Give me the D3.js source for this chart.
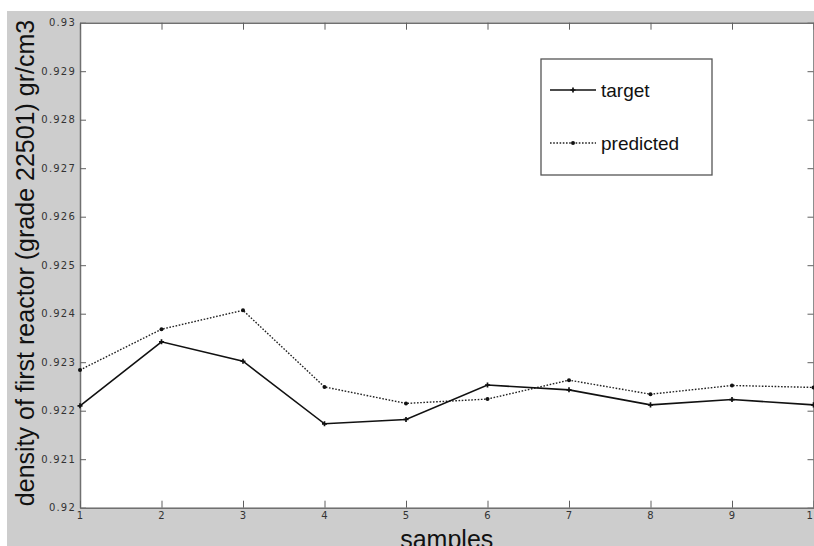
<!DOCTYPE html>
<html>
<head>
<meta charset="utf-8">
<script src="https://cdn.jsdelivr.net/npm/d3@7"></script>
<style>
  body { margin: 0; background: #fff; }
  svg { display: block; }
  .tick text { font-family: "DejaVu Sans", sans-serif; font-size: 10px; letter-spacing: 1.2px; fill: #333; }
</style>
</head>
<body>
<svg id="chart"></svg>
<script>
// samples 1..10, density values
const samples = [1, 2, 3, 4, 5, 6, 7, 8, 9, 10];
const target = [0.92210, 0.92342, 0.92302, 0.92173, 0.92182, 0.92253, 0.92243, 0.92212, 0.92223, 0.92212];
const predicted = [0.92284, 0.92368, 0.92407, 0.92249, 0.92215, 0.92224, 0.92263, 0.92234, 0.92252, 0.92248];
const yTicks = [0.92, 0.921, 0.922, 0.923, 0.924, 0.925, 0.926, 0.927, 0.928, 0.929, 0.93];

const width = 814, height = 546;
const plotLeft = 80, plotRight = 813.5, plotTop = 22.7, plotBottom = 507.7;

const svg = d3.select("#chart").attr("width", width).attr("height", height);

// grey figure background
svg.append("rect")
    .attr("x", 7).attr("y", 11)
    .attr("width", width - 7).attr("height", height - 11)
    .style("fill", "#cdcdcd");

const x = d3.scaleLinear().domain([1, 10]).range([plotLeft, plotRight]);
const y = d3.scaleLinear().domain([0.92, 0.93]).range([plotBottom, plotTop]);

// white axes box
svg.append("rect")
    .attr("x", plotLeft).attr("y", plotTop)
    .attr("width", plotRight - plotLeft).attr("height", plotBottom - plotTop)
    .style("fill", "#fff");

const fmt = d => String(+d.toFixed(3));

function styleAxis(g) {
    g.select(".domain").style("stroke", "#707070").style("stroke-width", 1.5);
    g.selectAll(".tick line").style("stroke", "#606060");
}

svg.append("g").attr("transform", `translate(${plotLeft},0)`)
    .call(d3.axisLeft(y).tickValues(yTicks).tickFormat(fmt).tickSizeInner(-6).tickSizeOuter(0).tickPadding(4))
    .call(styleAxis);
svg.append("g").attr("transform", `translate(${plotRight},0)`)
    .call(d3.axisRight(y).tickValues(yTicks).tickFormat("").tickSizeInner(-6).tickSizeOuter(0))
    .call(styleAxis);
svg.append("g").attr("transform", `translate(0,${plotBottom})`)
    .call(d3.axisBottom(x).tickValues(samples).tickFormat(d3.format("d")).tickSizeInner(-7).tickSizeOuter(0).tickPadding(4))
    .call(styleAxis);
svg.append("g").attr("transform", `translate(0,${plotTop})`)
    .call(d3.axisTop(x).tickValues(samples).tickFormat("").tickSizeInner(-7).tickSizeOuter(0))
    .call(styleAxis);

// lines
const line = d3.line().x((d, i) => x(samples[i])).y(d => y(d));

svg.append("path").datum(predicted)
    .attr("d", line)
    .style("fill", "none").style("stroke", "#222").style("stroke-width", 1.4)
    .style("stroke-dasharray", "1.6,1.6");
svg.append("path").datum(target)
    .attr("d", line)
    .style("fill", "none").style("stroke", "#111").style("stroke-width", 1.6);

// markers
svg.selectAll(".pdot").data(predicted).enter().append("circle")
    .attr("cx", (d, i) => x(samples[i])).attr("cy", d => y(d))
    .attr("r", 2).style("fill", "#111");
const plus = d3.symbol().type(d3.symbolCross).size(14);
svg.selectAll(".tplus").data(target).enter().append("path")
    .attr("d", plus)
    .attr("transform", (d, i) => `translate(${x(samples[i])},${y(d)})`)
    .style("fill", "#111");

// legend
const lg = svg.append("g");
lg.append("rect").attr("x", 541).attr("y", 59).attr("width", 171).attr("height", 116)
    .style("fill", "#fff").style("stroke", "#555").style("stroke-width", 1.3);
lg.append("line").attr("x1", 550).attr("x2", 596).attr("y1", 90).attr("y2", 90)
    .style("stroke", "#111").style("stroke-width", 1.5);
lg.append("path").attr("d", plus).attr("transform", "translate(573,90)").style("fill", "#111");
lg.append("text").attr("x", 601).attr("y", 97).text("target")
    .style("font-family", "Liberation Sans, Arial, sans-serif").style("font-size", "19px").style("fill", "#111");
lg.append("line").attr("x1", 550).attr("x2", 596).attr("y1", 143).attr("y2", 143)
    .style("stroke", "#222").style("stroke-width", 1.4).style("stroke-dasharray", "1.6,1.6");
lg.append("circle").attr("cx", 573).attr("cy", 143).attr("r", 2).style("fill", "#111");
lg.append("text").attr("x", 601).attr("y", 150).text("predicted")
    .style("font-family", "Liberation Sans, Arial, sans-serif").style("font-size", "19px").style("fill", "#111");

// axis titles
svg.append("text")
    .attr("x", (plotLeft + plotRight) / 2).attr("y", 548)
    .style("text-anchor", "middle")
    .style("font-family", "Liberation Sans, Arial, sans-serif").style("font-size", "25px").style("fill", "#111")
    .text("samples");
svg.append("text")
    .attr("transform", "translate(34,263) rotate(-90)")
    .style("text-anchor", "middle")
    .style("font-family", "Liberation Sans, Arial, sans-serif").style("font-size", "25px").style("fill", "#111")
    .text("density of first reactor (grade 22501) gr/cm3");
</script>
</body>
</html>
